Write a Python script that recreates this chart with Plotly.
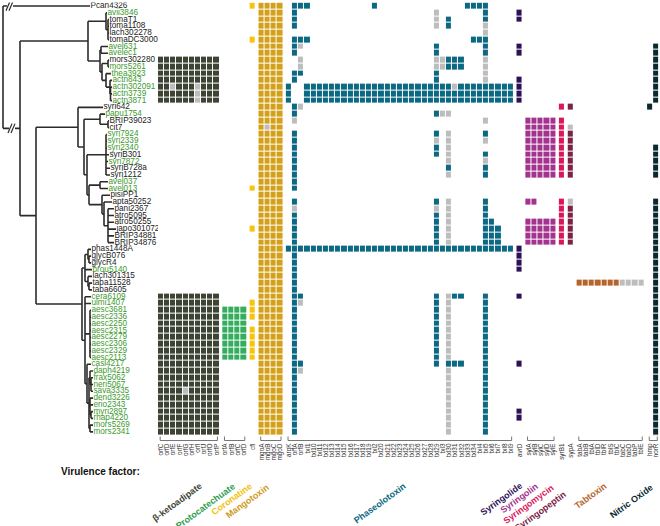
import plotly.graph_objects as go
import re

W, H = 660, 526

strains = ["Pcan4326","avii3846","tomaT1","toma1108","lach302278","tomaDC3000","avel631","avelec1",
"mors302280","mors5261","thea3923","actn843","actn302091","actn3739","actn3871","syri642","papu1754",
"BRIP39023","cit7","syri7924","syri2339","syri2340","syriB301","syri7872","syriB728a","syri1212",
"avel037","avel013","pisiPP1","apta50252","pani2367","atro5095","atro50255","japo301072","BRIP34881",
"BRIP34876","phas1448A","glycB076","glycR4","brou5140","lach301315","taba11528","taba6605","cera6109",
"ulmi1407","aesc3681","aesc2336","aesc2250","aesc2315","aesc2279","aesc2306","aesc2329","aesc2113",
"casl4217","daph4219","frax5062","neri5067","sava3335","dend3226","erio2343","myri2897","rhap4220",
"mors5269","mors2341"]

green_strains = ["avii3846","avel631","avelec1","mors5261","thea3923","actn843","actn302091","actn3739",
"actn3871","papu1754","syri7924","syri2339","syri2340","syri7872","avel037","avel013","brou5140",
"cera6109","ulmi1407","aesc3681","aesc2336","aesc2250","aesc2315","aesc2279","aesc2306","aesc2329",
"aesc2113","casl4217","daph4219","frax5062","neri5067","sava3335","dend3226","erio2343","myri2897",
"rhap4220","mors5269","mors2341"]

tree_newick = ("(Pcan4326:87,(((avii3846:1,(tomaT1:1,toma1108:1,lach302278:1,tomaDC3000:1):2):18,"
"((avel631:7,avelec1:7):1,((mors302280:1,mors5261:1):6,(thea3923:5,(actn843:2,(actn302091:1.5,"
"actn3739:1.5,actn3871:1.5):0.5):4):4):2):12):68,((syri642:25,((papu1754:5,(BRIP39023:1,cit7:1):8):16,"
"((syri7924:1,syri2339:1,syri2340:1,syriB301:3,syri7872:2,syriB728a:4,syri1212:4):19,((avel037:8,"
"avel013:8):11,(pisiPP1:8,(apta50252:8,(pani2367:6,atro5095:6,atro50255:6,japo301072:8,BRIP34881:6,"
"BRIP34876:6):4):2):13):2):3):6):42,(((phas1448A:3,(glycB076:2,glycR4:2):1):3,brou5140:7,"
"(lach301315:4,(taba11528:3,taba6605:3):1):3):3,(cera6109:6,ulmi1407:6,(aesc3681:1,aesc2336:1,"
"aesc2250:1,aesc2315:1,aesc2279:1,aesc2306:1,aesc2329:1,aesc2113:1):5,(casl4217:4,((daph4219:3,"
"(frax5062:2,neri5067:2,sava3335:2):1):1,(dend3226:3,erio2343:3,(myri2897:2,rhap4220:2):1):1,"
"(mors5269:3,mors2341:3):1):2):2):3):46):16):17)")

# ---- gene groups ----
group_names = ["β-ketoadipate","Protocatechuate","Coronatine","Mangotoxin","Phaseolotoxin","Syringolide",
               "Syringolin","Syringomycin","Syringopeptin","Tabtoxin","Nitric Oxide"]
group_colors = ["#3d4434","#35ad5e","#f6c40c","#d3a01c","#0c6983","#2c1156","#a3338f","#d9185c",
                "#7c2247","#b5652c","#0b2a30"]
label_colors = ["#3d4434","#2e9e4f","#f2c20f","#cf9a18","#0c6983","#2c1156","#a3338f","#d9185c",
                "#7c2247","#b5652c","#0b2a30"]
grey_cell = "#bdbdbd"

beta_genes = ["orfC","orfD","orfE","orfF","orfG","orfH","orfI","orfJ","orfO","orfP"]
proto_genes = ["orfA","orfB","orfC","orfD"]
cor_genes = ["cfl"]
mango_genes = ["mgoA","mgoB","mgoC","mgoD"]
phaseo_genes = ["argK","orfA","orfB","txl1","txl10","txl11","txl12","txl13","txl14","txl15","txl16",
                "txl17","txl18","txl19","txl2","txl20","txl21","txl22","txl23","txl24","txl25","txl26",
                "txl27","txl28","txl29","txl3","txl30","txl31","txl32","txl33","txl34","txl4","txl5",
                "txl6","txl7","txl8","txl9"]
syrlide_genes = ["avrD"]
sylin_genes = ["sylA","sylB","sylC","sylD","sylE"]
syrmyc_genes = ["syrB1"]
syrpep_genes = ["sypA"]
tab_genes = ["tabA","tabB","tblA","tblD","tblR","tblS","tblC","tabC","tabD","tabP","tblE"]
no_genes = ["hmp","norR"]

# x present, g grey (partial), . absent ; one string per strain (row order above)
beta_rows = (["."*10]*8 + ["xxxxxxxxxx"]*4 + ["xxgxxxgxxx","xxxxxxgxxx","xxxxxxgxxx"] + ["."*10]*28 +
             ["xxxxxxxxxx"]*14 + ["xxxxgxxxxx"] + ["xxxxxxxxxx"]*6)
proto_rows = ["...."]*45 + ["xxxx"]*8 + ["...."]*11
cor_rows = (["x",".",".",".",".","x"] + ["."]*21 + ["x"] + ["."]*5 + ["x"] + ["."]*10 +
            ["x","x","x",".","x","x","x","x","x"] + ["."]*11)
mango_rows = ["xxxx"]*18 + ["xgxx"] + ["xxxx"]*45

phaseo_rows = [
".xxx|..........|x|..........|.|...xx|xx....",
".x..|..........|.|.........g|.|.....|.x....",
".x..|..........|.|.........g|.|x....|.x....",
".x..|..........|.|.........g|.|x....|.g....",
"....|..........|.|..........|.|.....|.g....",
".xxx|..........|.|..........|.|....x|xx....",
".xg.|..........|.|.........x|.|.....|.x....",
".x..|..........|.|.........x|.|.....|.x....",
"..g.|..........|.|.........g|g|xxx..|.g....",
"..g.|..........|.|.........g|g|xxx..|.g....",
".xx.|..........|.|.........x|.|.....|.g....",
".x..|..........|.|.........x|.|.....|.g....",
"x..x|xxxxxxxxxx|x|xxxxxxxxxx|x|xgxxx|xxxxxx",
"x..x|xxxxxxxxxx|x|xxxxxxxxxx|x|xxxxx|xxxxxx",
"x..x|xxxxxxxxxx|x|xxxxxxxxxx|x|xxxxx|xxxxxx",
".xg.|..........|.|..........|.|.....|......",
".x..|..........|.|.........x|g|g....|......",
".g..|..........|.|..........|.|.....|.g....",
"....|..........|.|..........|.|.....|......",
".x..|..........|.|.........x|.|g....|.x....",
".x..|..........|.|.........g|.|g....|.g....",
".x..|..........|.|.........x|.|g....|......",
".x..|..........|.|.........x|.|g....|.x....",
".x..|..........|.|..........|.|g....|.g....",
".x..|..........|.|..........|.|x....|.x....",
".x..|..........|.|..........|.|g....|.x....",
".x..|..........|.|..........|.|.....|......",
".x..|..........|.|..........|.|.....|......",
"....|..........|.|..........|.|.....|......",
".x..|..........|.|.........x|.|g....|.x....",
".g..|..........|.|.........g|.|g....|.x....",
".x..|..........|.|.........x|.|g....|.x....",
".x..|..........|.|.........x|.|g....|.xx...",
".x..|..........|.|.........x|.|g....|.xxx..",
".x..|..........|.|.........x|.|g....|.xxx..",
".x..|..........|.|.........x|.|g....|.xxx..",
"xxxx|xxxxxxxxxx|x|xxxxxxxxxx|x|xxxxx|xxxxxx",
".x..|..........|.|..........|.|.....|......",
".x..|..........|.|..........|.|.....|......",
".x..|..........|.|..........|.|.....|......",
".x..|..........|.|..........|.|.....|......",
".x..|..........|.|..........|.|.....|......",
".x..|..........|.|..........|.|.....|......",
".xx.|..........|.|.........x|.|gxx..|.x....",
".xg.|..........|.|.........x|.|g....|.x....",
".x..|..........|.|.........x|.|g....|.x....",
".x..|..........|.|.........x|.|g....|.x....",
".x..|..........|.|.........x|.|g....|.x....",
".x..|..........|.|.........x|.|g....|.x....",
".x..|..........|.|.........x|.|g....|.x....",
".x..|..........|.|.........x|.|g....|.x....",
".x..|..........|.|.........x|.|g....|.x....",
".x..|..........|.|.........x|.|g....|.x....",
".xx.|..........|.|.........x|.|xxx..|.x....",
".xg.|..........|.|..........|.|g....|.x....",
".x..|..........|.|..........|.|g....|.x....",
".x..|..........|.|..........|.|g....|.x....",
".x..|..........|.|..........|.|g....|.x....",
".x..|..........|.|..........|.|g....|.x....",
".x..|..........|.|..........|.|g....|.x....",
".x..|..........|.|..........|.|g....|.x....",
".x..|..........|.|..........|.|g....|.x....",
".x..|..........|.|..........|.|g....|.x....",
".x..|..........|.|..........|.|g....|.x....",
]
syrlide_rows = ([".","x","x",".",".",".","x","x",".",".",".","x","x","x","x"] + ["."]*21 +
                ["x","x","x","x"] + ["."]*3 + ["x"] + ["."]*9 + ["x"] + ["."]*6 + ["x","x"] + ["."]*2)
sylin_rows = (["....."]*17 + ["xxxxx"]*9 + ["....."]*3 + ["xx..."] + ["....."]*2 + ["xxxxx"]*4 + ["....."]*28)
syrmyc_rows = (["."]*15 + ["x","."] + ["x"]*9 + ["."]*3 + ["x"]*7 + ["."]*28)
syrpep_rows = (["."]*15 + ["x",".",".","g"] + ["x"]*7 + ["."]*3 + ["g"] + ["x"]*6 + ["."]*28)
tab_rows = ["..........."]*41 + ["xxxxxxxgggg"] + ["..........."]*22
no_rows = ([".."]*6 + [".x"]*9 + ["x."] + [".."]*5 + [".x"]*5 + [".."]*3 + [".x"]*7 + [".x"]*8 +
           [".x"]*21)

groups = [
    (beta_genes, beta_rows), (proto_genes, proto_rows), (cor_genes, cor_rows), (mango_genes, mango_rows),
    (phaseo_genes, phaseo_rows), (syrlide_genes, syrlide_rows), (sylin_genes, sylin_rows),
    (syrmyc_genes, syrmyc_rows), (syrpep_genes, syrpep_rows), (tab_genes, tab_rows), (no_genes, no_rows)]

# ---- layout geometry (pixels) ----
HM_LEFT = 158.0
CELL = 6.16
GAP = 0.44  # in cell units
ROW0_Y, ROW_H = 6.0, 6.76
n_rows = len(strains)
y_top_px = ROW0_Y - ROW_H / 2
y_bot_px = ROW0_Y + ROW_H * (n_rows - 1) + ROW_H / 2
x_range_max = (W - HM_LEFT) / CELL

fig = go.Figure()

tickvals, ticktext = [], []
group_spans = []
pos = 0.0
for gi, (genes, rows) in enumerate(groups):
    ncol = len(genes)
    edges = [pos + k for k in range(ncol + 1)]
    z = []
    for r in rows:
        s = r.replace("|", "")
        z.append([1 if c == "x" else (0 if c == "g" else None) for c in s])
    col = group_colors[gi]
    fig.add_trace(go.Heatmap(
        x=edges, y=list(range(n_rows)), z=z, zmin=0, zmax=1,
        colorscale=[[0, grey_cell], [0.5, grey_cell], [0.5, col], [1, col]],
        showscale=False, xgap=1, ygap=1, hoverinfo="skip", xaxis="x", yaxis="y"))
    for k, gname in enumerate(genes):
        tickvals.append(pos + k + 0.5)
        ticktext.append(gname)
    group_spans.append((pos, pos + ncol))
    pos += ncol + GAP

# ---- tree ----
def parse_newick(s):
    i = 0
    def node():
        nonlocal i
        children = []
        if s[i] == "(":
            i += 1
            while True:
                children.append(node())
                if s[i] == ",":
                    i += 1
                    continue
                if s[i] == ")":
                    i += 1
                    break
        m = re.match(r"[A-Za-z0-9_]*", s[i:])
        name = m.group(0)
        i += len(name)
        length = 0.0
        if i < len(s) and s[i] == ":":
            i += 1
            m = re.match(r"[0-9.]+", s[i:])
            length = float(m.group(0))
            i += len(m.group(0))
        return {"name": name, "len": length, "children": children}
    return node()

tree = parse_newick(tree_newick)
row_of = {n: k for k, n in enumerate(strains)}
seg_x, seg_y = [], []
tips = []

def layout(nd, x_parent):
    x = x_parent + nd["len"]
    if not nd["children"]:
        y = row_of[nd["name"]]
        tips.append((nd["name"], x, y))
    else:
        ys = [layout(c, x) for c in nd["children"]]
        y = (ys[0] + ys[-1]) / 2
        seg_x.extend([x, x, None]); seg_y.extend([ys[0], ys[-1], None])
    seg_x.extend([x_parent, x, None]); seg_y.extend([y, y, None])
    return y

ROOT_X = 3.0
ys_root = [layout(c, ROOT_X) for c in tree["children"]]
seg_x.extend([ROOT_X, ROOT_X, None]); seg_y.extend([ys_root[0], ys_root[-1], None])

fig.add_trace(go.Scatter(x=seg_x, y=seg_y, mode="lines", line=dict(color="#2b2b2b", width=1.6),
                         xaxis="x2", yaxis="y", hoverinfo="skip", showlegend=False))

# break marks "//"
for (bx, by) in [(9.5, ys_root[0]), (11.5, ys_root[1])]:
    fig.add_trace(go.Scatter(x=[bx - 2.5, bx + 3.5], y=[by, by], mode="lines",
                             line=dict(color="white", width=4), xaxis="x2", yaxis="y",
                             hoverinfo="skip", showlegend=False))
    for dx in (-1.5, 1.5):
        fig.add_trace(go.Scatter(x=[bx + dx - 2, bx + dx + 2], y=[by + 0.7, by - 0.7], mode="lines",
                                 line=dict(color="#2b2b2b", width=1.2), xaxis="x2", yaxis="y",
                                 hoverinfo="skip", showlegend=False))

for colr, sel in [("#222222", False), ("#3c9a2c", True)]:
    tx = [t[1] + 0.5 for t in tips if (t[0] in green_strains) == sel]
    ty = [t[2] for t in tips if (t[0] in green_strains) == sel]
    tt = [t[0] for t in tips if (t[0] in green_strains) == sel]
    fig.add_trace(go.Scatter(x=tx, y=ty, text=tt, mode="text", textposition="middle right",
                             textfont=dict(family="Liberation Sans, Arial", size=8.2, color=colr),
                             xaxis="x2", yaxis="y", hoverinfo="skip", showlegend=False))

# ---- brackets under multi-gene groups ----
shapes = []
br_top = 1 - 436.5 / H
br_bot = 1 - 440.5 / H
for (a, b), genes in zip(group_spans, [g[0] for g in groups]):
    if len(genes) < 2:
        continue
    xa, xb = a + 0.35, b - 0.35
    shapes.append(dict(type="path", xref="x", yref="paper",
                       path=f"M {xa},{br_top} L {xa},{br_bot} L {xb},{br_bot} L {xb},{br_top}",
                       line=dict(color="#666666", width=0.9)))

# ---- group labels (anchored at their upper-right end) ----
label_ends = [(207, 478), (240, 478), (257, 478), (274, 479), (411, 478), (527, 478), (543, 478),
              (559, 480), (571, 486), (611, 478), (658, 479)]
annotations = []
for gname, colr, (ex, ey) in zip(group_names, label_colors, label_ends):
    annotations.append(dict(text=f"<b>{gname}</b>", x=ex / W, y=1 - ey / H, xref="paper", yref="paper",
                            xanchor="right", yanchor="top", textangle=-36, showarrow=False,
                            font=dict(family="Liberation Sans, Arial", size=9, color=colr)))
annotations.append(dict(text="<b>Virulence factor:</b>", x=59 / W, y=1 - 471 / H, xref="paper", yref="paper",
                        xanchor="left", yanchor="middle", showarrow=False,
                        font=dict(family="Liberation Sans, Arial", size=10, color="#111111")))

fig.update_layout(
    width=W, height=H, margin=dict(l=0, r=0, t=0, b=0),
    paper_bgcolor="white", plot_bgcolor="white", showlegend=False,
    xaxis=dict(domain=[HM_LEFT / W, 1], range=[0, x_range_max], showgrid=False, zeroline=False,
               tickmode="array", tickvals=tickvals, ticktext=ticktext, tickangle=-90, ticks="",
               ticklabelstandoff=6, tickfont=dict(family="Liberation Sans, Arial", size=6.4, color="#333333"),
               showline=False, fixedrange=True),
    xaxis2=dict(domain=[0, HM_LEFT / W], range=[0, HM_LEFT], visible=False, anchor="y", fixedrange=True),
    yaxis=dict(domain=[1 - y_bot_px / H, 1 - y_top_px / H], range=[n_rows - 0.5, -0.5], visible=False,
               fixedrange=True),
    shapes=shapes, annotations=annotations,
)

fig.write_html("out.html", config={"displayModeBar": False, "staticPlot": True},
               post_script="document.body.style.margin='0px';")
